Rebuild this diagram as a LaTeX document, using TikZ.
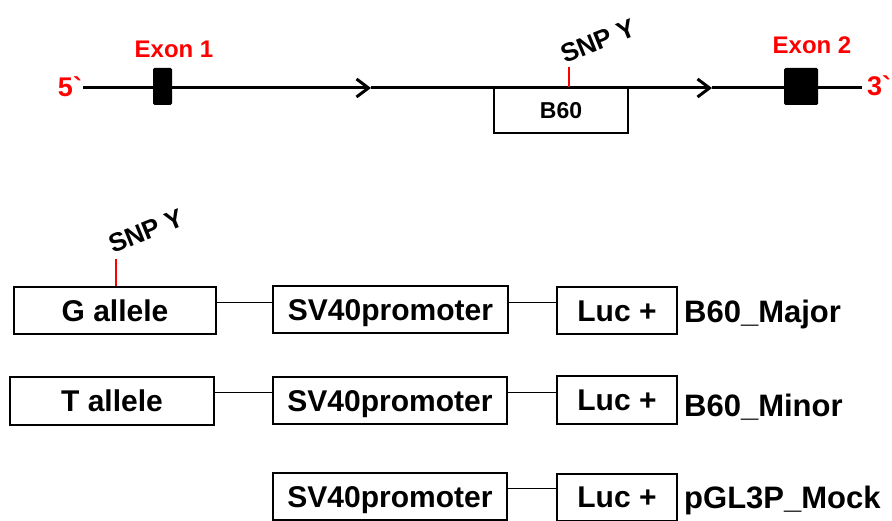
\documentclass[tikz,border=0pt]{standalone}
\usepackage{fontspec}
\setmainfont{Liberation Sans}
\usetikzlibrary{arrows.meta}
\definecolor{snpred}{RGB}{255,0,0}
\tikzset{
  box/.style={draw=black, line width=2pt, minimum height=47pt, inner sep=0pt, text height=21.5pt, text depth=0pt, font=\fontsize{30}{30}\selectfont\bfseries},
  exon/.style={fill=black, rounded corners=1.5pt, inner sep=0pt, minimum height=37pt},
  redlbl/.style={text=snpred, font=\fontsize{24}{24}\selectfont\bfseries, inner sep=0pt, text height=17pt, text depth=0pt},
  snplbl/.style={font=\fontsize{26}{26}\selectfont\bfseries, inner sep=0pt, rotate=22},
  sidelbl/.style={font=\fontsize{31}{31}\selectfont\bfseries, inner sep=0pt, anchor=west, text height=22pt, text depth=0pt},
  gene/.style={line width=3pt},
  link/.style={line width=0.9pt},
  tick/.style={draw=snpred, line width=2pt},
  barb/.style={-{Straight Barb[length=12pt,width=18pt,line width=3pt]}}
}
\begin{document}
\begin{tikzpicture}[x=1pt,y=-1pt]
\useasboundingbox (0,0) rectangle (892,521);
% gene line
\coordinate (L) at (83,88);
\coordinate (A1) at (371,88);
\coordinate (A2) at (712,88);
\coordinate (R) at (862,88);
\node[box, minimum width=134pt, minimum height=45pt, text height=16.5pt, font=\fontsize{23}{23}\selectfont\bfseries] (b60) at (561,110.5) {B60};
\draw[gene, barb] (L) -- (A1);
\draw[gene, barb] (A1) -- (A2);
\draw[gene] (A2) -- (R);
\node[exon, minimum width=19pt] (ex1) at (162.5,86.5) {};
\node[exon, minimum width=34pt] (ex2) at (801,86.5) {};
\node[redlbl, font=\fontsize{27}{27}\selectfont\bfseries, text height=19.5pt] (p5) at (70,87) {5\textasciigrave};
\node[redlbl, font=\fontsize{27}{27}\selectfont\bfseries, text height=19.5pt] (p3) at (879,86) {3\textasciigrave};
\node[redlbl] (e1) at (174,49) {Exon 1};
\node[redlbl] (e2) at (812,45) {Exon 2};
\coordinate (snp1) at (569,67);
\draw[tick] (snp1) -- (snp1 |- b60.north);
\node[snplbl] (snpl1) at (598,41) {SNP Y};
% constructs row 1
\node[box, minimum width=202pt] (g) at (115,311) {G allele};
\node[box, minimum width=235pt] (sv1) at (390.5,310) {SV40promoter};
\node[box, minimum width=120pt] (luc1) at (617,311) {Luc +};
\node[sidelbl] (maj) at (684,312) {B60\_Major};
\draw[link] ([yshift=9pt]g.east) -- ([yshift=8pt]sv1.west);
\draw[link] ([yshift=8pt]sv1.east) -- ([yshift=9pt]luc1.west);
\coordinate (snp2) at (116,259);
\draw[tick] (snp2) -- (snp2 |- g.north);
\node[snplbl] (snpl2) at (146,231) {SNP Y};
% row 2
\node[box, minimum width=204pt] (t) at (112,401) {T allele};
\node[box, minimum width=234pt] (sv2) at (390,400.5) {SV40promoter};
\node[box, minimum width=120pt] (luc2) at (617,400) {Luc +};
\node[sidelbl] (mnr) at (684,405) {B60\_Minor};
\draw[link] ([yshift=9pt]t.east) -- ([yshift=8.5pt]sv2.west);
\draw[link] ([yshift=8.5pt]sv2.east) -- ([yshift=8pt]luc2.west);
% row 3
\node[box, minimum width=234pt] (sv3) at (390,496.5) {SV40promoter};
\node[box, minimum width=120pt] (luc3) at (617,497) {Luc +};
\node[sidelbl] (mock) at (684,497) {pGL3P\_Mock};
\draw[link] ([yshift=8.5pt]sv3.east) -- ([yshift=9pt]luc3.west);
\end{tikzpicture}
\end{document}
